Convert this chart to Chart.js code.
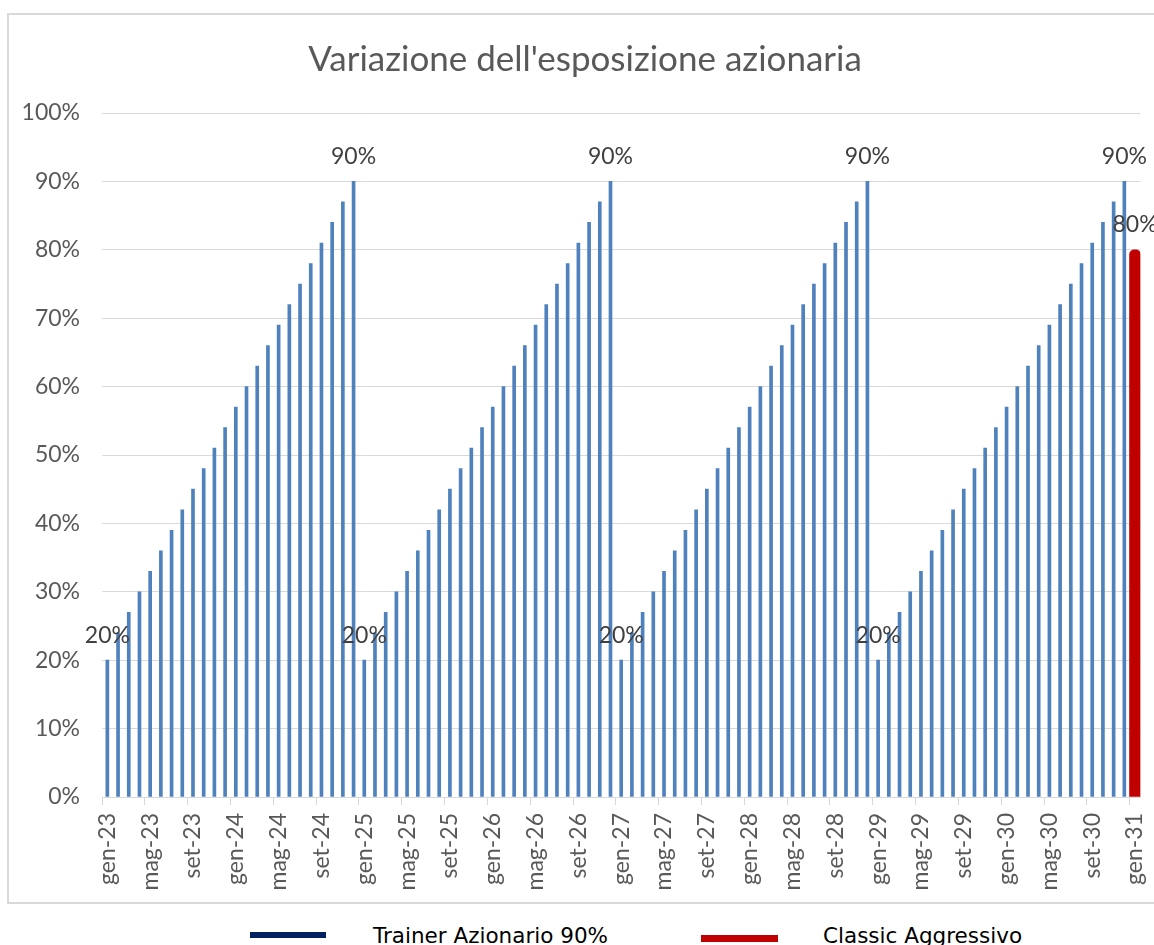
<!DOCTYPE html>
<html>
<head>
<meta charset="utf-8">
<script src="https://cdn.jsdelivr.net/npm/chart.js"></script>
<style>
  body { margin: 0; background: #fff; width: 1154px; height: 945px; overflow: hidden; position: relative; }
  #box { position: absolute; left: 7px; top: 13px; width: 1152px; height: 887px; border: 2px solid #d9d9d9; }
  .leg-line { position: absolute; height: 6px; }
  .leg-text { position: absolute; font-family: "DejaVu Sans", sans-serif; font-size: 21.5px; color: #000; white-space: nowrap; }
</style>
</head>
<body>
<div id="box"><canvas id="chart"></canvas></div>

<div class="leg-line" style="left:250px; top:932px; width:76px; background:#002060;"></div>
<div class="leg-text" style="left:373px; top:923px;">Trainer Azionario 90%</div>
<div class="leg-line" style="left:701px; top:935px; width:77px; height:7px; background:#c00000;"></div>
<div class="leg-text" style="left:823px; top:923px;">Classic Aggressivo</div>

<script>
// mesi da gen-23 a gen-31
var mesi = ['gen', 'feb', 'mar', 'apr', 'mag', 'giu', 'lug', 'ago', 'set', 'ott', 'nov', 'dic'];
var anni = ['23', '24', '25', '26', '27', '28', '29', '30'];
var categorie = [];
anni.forEach(function (a) {
    mesi.forEach(function (m) { categorie.push(m + '-' + a); });
});
categorie.push('gen-31');

// Trainer Azionario 90% (esposizione mensile, cicli di 24 mesi)
var trainer = [
    20, 24, 27, 30, 33, 36, 39, 42, 45, 48, 51, 54, 57, 60, 63, 66, 69, 72, 75, 78, 81, 84, 87, 90,
    20, 24, 27, 30, 33, 36, 39, 42, 45, 48, 51, 54, 57, 60, 63, 66, 69, 72, 75, 78, 81, 84, 87, 90,
    20, 24, 27, 30, 33, 36, 39, 42, 45, 48, 51, 54, 57, 60, 63, 66, 69, 72, 75, 78, 81, 84, 87, 90,
    20, 24, 27, 30, 33, 36, 39, 42, 45, 48, 51, 54, 57, 60, 63, 66, 69, 72, 75, 78, 81, 84, 87, 90
];

// Classic Aggressivo: un solo valore a gen-31
var classicMese = ['gen-31'];
var classic = [80];

var yTicks = [0, 10, 20, 30, 40, 50, 60, 70, 80, 90, 100];

// etichette dati solo sui valori min/max del Trainer
var etichetteTrainer = [20, 90];

var labelPlugin = {
    id: 'etichette',
    afterDatasetsDraw: function (chart) {
        var ctx = chart.ctx;
        var y = chart.scales.y;
        ctx.save();
        ctx.font = '23px Lato';
        ctx.fillStyle = '#404040';
        ctx.textAlign = 'center';
        ctx.textBaseline = 'middle';
        chart.data.datasets.forEach(function (ds, di) {
            var meta = chart.getDatasetMeta(di);
            meta.data.forEach(function (el, i) {
                var v = di === 0 ? ds.data[i] : ds.data[i].y;
                if (v == null) return;
                if (di === 0 && etichetteTrainer.indexOf(v) < 0) return;
                ctx.fillText(v + '%', el.x, y.getPixelForValue(v) - 25);
            });
        });
        ctx.restore();
    }
};

new Chart(document.getElementById('chart'), {
    type: 'bar',
    data: {
        labels: categorie,
        datasets: [{
            label: 'Trainer Azionario 90%',
            data: trainer,
            backgroundColor: '#4f81bd',
            barThickness: 3,
            grouped: false
        }, {
            label: 'Classic Aggressivo',
            data: classicMese.map(function (m, i) { return { x: m, y: classic[i] }; }),
            backgroundColor: '#c00000',
            barThickness: 11,
            borderRadius: { topLeft: 5, topRight: 5 },
            borderSkipped: 'start',
            grouped: false
        }]
    },
    options: {
        responsive: true,
        maintainAspectRatio: false,
        animation: false,
        layout: { padding: 0 },
        plugins: {
            legend: { display: false },
            tooltip: { enabled: false },
            title: {
                display: true,
                text: "Variazione dell'esposizione azionaria",
                color: '#595959',
                font: { family: 'Lato', size: 35, weight: 'normal' },
                padding: { top: 24, bottom: 32 }
            }
        },
        scales: {
            x: {
                offset: true,
                grid: {
                    offset: true,
                    drawOnChartArea: false,
                    drawTicks: true,
                    tickLength: 8,
                    color: function (c) { return c.index % 4 === 0 ? '#d9d9d9' : 'rgba(0,0,0,0)'; }
                },
                border: { color: '#d9d9d9', width: 1 },
                ticks: {
                    autoSkip: false,
                    minRotation: 90,
                    maxRotation: 90,
                    padding: 8,
                    color: '#595959',
                    font: { family: 'Lato', size: 23 },
                    callback: function (v, i) { return i % 4 === 0 ? categorie[i] : ''; }
                },
                afterFit: function (s) {
                    s.height = 105;
                    s.paddingLeft = 0;
                    s.paddingRight = 20.6;
                }
            },
            y: {
                min: 0,
                max: 100,
                afterBuildTicks: function (s) { s.ticks = yTicks.map(function (v) { return { value: v }; }); },
                grid: { color: '#d9d9d9', drawTicks: false },
                border: { display: false },
                ticks: {
                    padding: 22,
                    color: '#595959',
                    font: { family: 'Lato', size: 23 },
                    callback: function (v) { return v + '%'; }
                },
                afterFit: function (s) { s.width = 93; }
            }
        }
    },
    plugins: [labelPlugin]
});
</script>
</body>
</html>
